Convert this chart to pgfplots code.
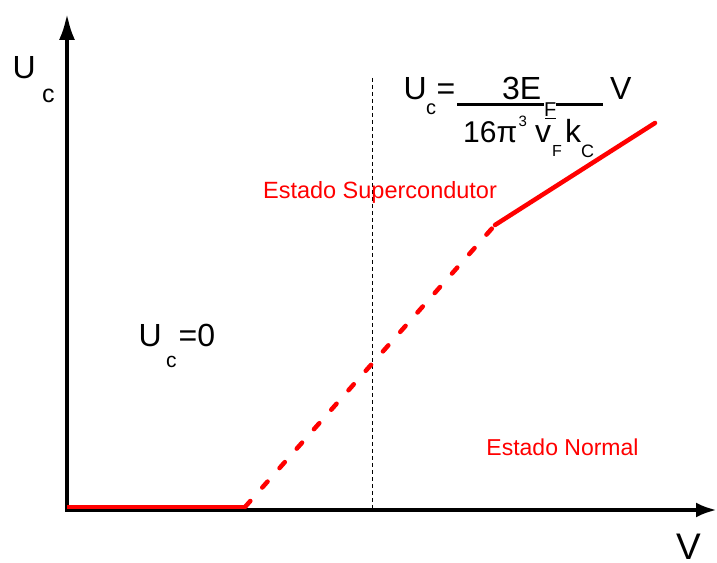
\documentclass[border=0pt]{standalone}
\usepackage{pgfplots}
\pgfplotsset{compat=1.18}
\usepackage{fontspec}
\setmainfont{Liberation Sans}
\usetikzlibrary{arrows.meta}

\newcommand{\fs}[1]{\fontsize{#1bp}{#1bp}\selectfont}

\begin{document}
\begin{tikzpicture}
\begin{axis}[
  scale only axis,
  width=717bp, height=563bp,
  xmin=0, xmax=717, ymin=-563, ymax=0,
  hide axis, clip=false,
]
% axes with arrow heads
\addplot[black, line width=4.5bp, -{Latex[length=27bp,width=16bp]}]
  coordinates {(67,-512) (67,-13)};
\addplot[black, line width=4.5bp, -{Latex[length=21bp,width=15bp]}]
  coordinates {(65,-510) (717,-510)};

% transition temperature marker
\addplot[black, line width=0.9bp, dash pattern=on 4bp off 3bp]
  coordinates {(372,-78) (372,-510)};

% critical curve
\addplot[red, line width=4.5bp]
  coordinates {(67,-507) (245,-507)};
\addplot[red, line width=4.5bp, line cap=round, dash pattern=on 8bp off 18bp]
  coordinates {(245,-507) (495,-225)};
\addplot[red, line width=4.5bp, line cap=round]
  coordinates {(495,-225) (655,-123)};

% axis titles
\node[anchor=base west, inner sep=0] at (axis cs:12.5,-79) {\fs{32}U};
\node[anchor=base west, inner sep=0] at (axis cs:42,-103) {\fs{25}c};
\node[anchor=base west, inner sep=0] at (axis cs:676,-559) {\fs{37}V};

% U_c = 0
\node[anchor=base west, inner sep=0] at (axis cs:138.5,-347) {\fs{32}U};
\node[anchor=base west, inner sep=0] at (axis cs:166,-368) {\fs{21}c};
\node[anchor=base west, inner sep=0] at (axis cs:178.5,-347) {\fs{32}=0};

% region labels
\node[anchor=base, inner sep=0, text=red] at (axis cs:380,-199) {\fs{23.5}Estado Supercondutor};
\node[anchor=base, inner sep=0, text=red] at (axis cs:562.5,-456) {\fs{23}Estado Normal};

% formula
\node[anchor=base west, inner sep=0] at (axis cs:403.5,-100) {\fs{32}U};
\node[anchor=base west, inner sep=0] at (axis cs:426,-115) {\fs{20}c};
\node[anchor=base west, inner sep=0] at (axis cs:436.5,-100) {\fs{32}=};
\addplot[black, line width=3bp] coordinates {(457,-105) (603,-105)};
\node[anchor=base west, inner sep=0] at (axis cs:502,-100) {\fs{32}3E};
\node[anchor=base west, inner sep=0, fill=white] at (axis cs:544,-117) {\fs{20}F};
\addplot[black, line width=1.8bp] coordinates {(545,-118.5) (556,-118.5)};
\node[anchor=base west, inner sep=0] at (axis cs:610,-100) {\fs{32}V};
\node[anchor=base west, inner sep=0] at (axis cs:463,-143) {\fs{30}16π};
\node[anchor=base west, inner sep=0] at (axis cs:518.5,-127) {\fs{15}3};
\node[anchor=base west, inner sep=0] at (axis cs:535,-143) {\fs{32}v};
\node[anchor=base west, inner sep=0] at (axis cs:552,-157) {\fs{16}F};
\node[anchor=base west, inner sep=0] at (axis cs:565,-143) {\fs{32}k};
\node[anchor=base west, inner sep=0] at (axis cs:581,-158) {\fs{18}C};
\end{axis}
\pgfresetboundingbox
\path (0,0) rectangle (717bp,563bp);
\end{tikzpicture}
\end{document}
